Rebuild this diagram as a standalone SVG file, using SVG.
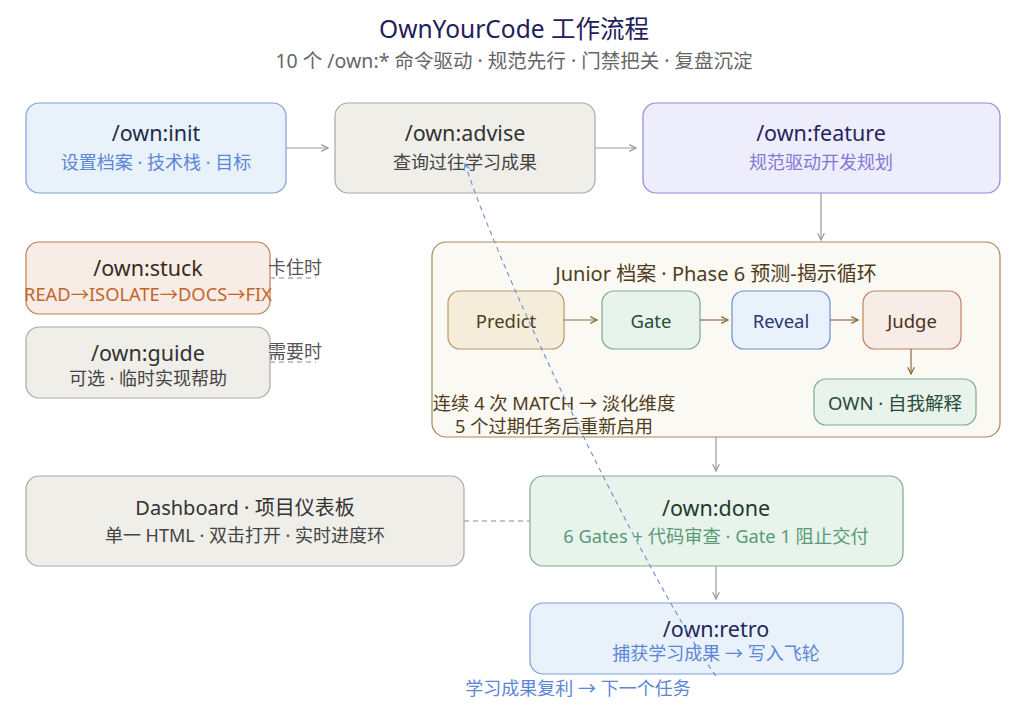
<svg xmlns="http://www.w3.org/2000/svg" width="1024" height="711" viewBox="0 0 1024 711">
<defs>
<style>
text{font-family:"Noto Sans","Noto Sans CJK SC",sans-serif;text-anchor:middle;dominant-baseline:central}
.t{font-size:21.5px}
.s{font-size:18px}
.lbl{font-size:18px;fill:#555}
.e{fill:none;stroke:#9a9a9a;stroke-width:1.2}
.eb{fill:none;stroke:#8a6a40;stroke-width:1.2}
.ed{fill:none;stroke:#b0b0b0;stroke-width:1.3;stroke-dasharray:5 4}
</style>
<marker id="ag" viewBox="0 0 10 10" refX="9" refY="5" markerWidth="7" markerHeight="7" orient="auto"><path d="M1 1 L9 5 L1 9" fill="none" stroke="#9a9a9a" stroke-width="1.5"/></marker>
<marker id="ab" viewBox="0 0 10 10" refX="9" refY="5" markerWidth="7" markerHeight="7" orient="auto"><path d="M1 1 L9 5 L1 9" fill="none" stroke="#8a6a40" stroke-width="1.5"/></marker>
<marker id="abl" viewBox="0 0 10 10" refX="9" refY="5" markerWidth="7" markerHeight="7" orient="auto"><path d="M1 1 L9 5 L1 9" fill="none" stroke="#6a8fd8" stroke-width="1.5"/></marker>
</defs>
<rect width="1024" height="711" fill="#ffffff"/>
<text x="514" y="28" style="font-size:24.5px" fill="#22205a">OwnYourCode 工作流程</text>
<text x="514" y="60" style="font-size:19.5px" fill="#666">10 个 /own:* 命令驱动 · 规范先行 · 门禁把关 · 复盘沉淀</text>

<g id="junior">
<rect x="432" y="242" width="568" height="195" rx="14" fill="#fbf9f3" stroke="#a8885a" stroke-width="1.2"/>
<text x="716" y="273" style="font-size:20px" fill="#4f3d1c">Junior 档案 · Phase 6 预测-揭示循环</text>
<text x="554" y="402" style="font-size:18.3px" fill="#4f3d1c">连续 4 次 MATCH → 淡化维度</text>
<text x="554" y="425" style="font-size:18.3px" fill="#4f3d1c">5 个过期任务后重新启用</text>
</g>
<g id="init">
<rect x="26" y="103" width="260" height="90" rx="13" fill="#e9f1fb" stroke="#7f9fd6" stroke-width="1.2"/>
<text class="t" x="156" y="132" fill="#1f2a4a">/own:init</text>
<text class="s" x="156" y="162" fill="#5b87d6">设置档案 · 技术栈 · 目标</text>
</g>
<g id="advise">
<rect x="335" y="103" width="260" height="90" rx="13" fill="#f0eee9" stroke="#a9a9a9" stroke-width="1.2"/>
<text class="t" x="465" y="132" fill="#333">/own:advise</text>
<text class="s" x="465" y="162" fill="#444">查询过往学习成果</text>
</g>
<g id="feature">
<rect x="643" y="103" width="357" height="90" rx="13" fill="#eeedfc" stroke="#9288d8" stroke-width="1.2"/>
<text class="t" x="821" y="132" fill="#27245e">/own:feature</text>
<text class="s" x="821" y="162" fill="#8479d6">规范驱动开发规划</text>
</g>
<g id="stuck">
<rect x="26" y="242" width="244" height="72" rx="13" fill="#f7ede6" stroke="#c27c52" stroke-width="1.2"/>
<text class="t" x="148" y="267" fill="#3a2a20">/own:stuck</text>
<text class="s" x="148" y="293" style="font-size:18.3px" fill="#c4652c">READ→ISOLATE→DOCS→FIX</text>
</g>
<g id="guide">
<rect x="26" y="327" width="244" height="71" rx="13" fill="#f0eee9" stroke="#a9a9a9" stroke-width="1.2"/>
<text class="t" x="148" y="352" fill="#333">/own:guide</text>
<text class="s" x="148" y="378" fill="#444">可选 · 临时实现帮助</text>
</g>
<g id="predict">
<rect x="448" y="291" width="116" height="58" rx="12" fill="#f5ecd9" stroke="#b9996b" stroke-width="1.2"/>
<text x="506" y="320" style="font-size:18.5px" fill="#4f3d1c">Predict</text>
</g>
<g id="gate">
<rect x="602" y="291" width="98" height="58" rx="12" fill="#e7f3eb" stroke="#7fab8e" stroke-width="1.2"/>
<text x="651" y="320" style="font-size:18.5px" fill="#2a4a3a">Gate</text>
</g>
<g id="reveal">
<rect x="732" y="291" width="98" height="58" rx="12" fill="#e9f1fb" stroke="#6e8ed4" stroke-width="1.2"/>
<text x="781" y="320" style="font-size:18.5px" fill="#28386e">Reveal</text>
</g>
<g id="judge">
<rect x="863" y="291" width="98" height="58" rx="12" fill="#f7ece6" stroke="#c28462" stroke-width="1.2"/>
<text x="912" y="320" style="font-size:18.5px" fill="#4f3020">Judge</text>
</g>
<g id="own">
<rect x="814" y="379" width="162" height="46" rx="12" fill="#e7f3eb" stroke="#7fab8e" stroke-width="1.2"/>
<text x="895" y="402" style="font-size:18.5px" fill="#2a4a3a">OWN · 自我解释</text>
</g>
<g id="dashboard">
<rect x="26" y="476" width="438" height="90" rx="13" fill="#f0eee9" stroke="#a9a9a9" stroke-width="1.2"/>
<text x="245" y="507" style="font-size:20px" fill="#333">Dashboard · 项目仪表板</text>
<text class="s" x="245" y="535" fill="#444">单一 HTML · 双击打开 · 实时进度环</text>
</g>
<g id="done">
<rect x="530" y="476" width="373" height="90" rx="13" fill="#e7f3eb" stroke="#7fab8e" stroke-width="1.2"/>
<text class="t" x="716" y="507" fill="#1f3a2c">/own:done</text>
<text class="s" x="716" y="535" style="font-size:18.3px" fill="#5a9a78">6 Gates + 代码审查 · Gate 1 阻止交付</text>
</g>
<g id="retro">
<rect x="530" y="603" width="373" height="71" rx="13" fill="#e9f1fb" stroke="#7f9fd6" stroke-width="1.2"/>
<text class="t" x="716" y="628" fill="#1f2a5a">/own:retro</text>
<text class="s" x="716" y="653" fill="#5b87d6">捕获学习成果 → 写入飞轮</text>
</g>

<g id="connectors">
<path class="e" d="M286 148 H328" marker-end="url(#ag)"/>
<path class="e" d="M595 148 H636" marker-end="url(#ag)"/>
<path class="e" d="M821 193 V240" marker-end="url(#ag)"/>
<path class="eb" d="M564 320 H597" marker-end="url(#ab)"/>
<path class="eb" d="M700 320 H728" marker-end="url(#ab)"/>
<path class="eb" d="M830 320 H858" marker-end="url(#ab)"/>
<path class="eb" d="M911 349 V374" marker-end="url(#ab)"/>
<path class="e" d="M716 437 V471" marker-end="url(#ag)"/>
<path class="e" d="M716 566 V599" marker-end="url(#ag)"/>
<path class="ed" d="M464 521 H530"/>
<path class="ed" d="M270 278 H316"/>
<path class="ed" d="M270 362 H316"/>
<text class="lbl" x="295" y="267">卡住时</text>
<text class="lbl" x="295" y="351">需要时</text>
<path d="M716 676 C 660 600 510 300 465 164" fill="none" stroke="#6a8fd8" stroke-width="1.1" stroke-dasharray="5 4" marker-end="url(#abl)"/>
<text x="578" y="688" style="font-size:18px" fill="#5b87d6">学习成果复利 → 下一个任务</text>
</g>
</svg>
